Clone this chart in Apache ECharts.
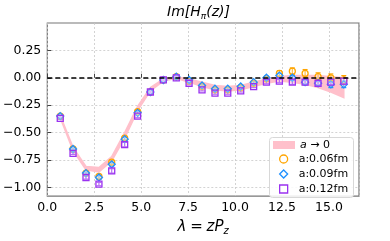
<!DOCTYPE html>
<html><head><meta charset="utf-8">
<script src="https://cdn.jsdelivr.net/npm/echarts@6/dist/echarts.min.js"></script>
<style>html,body{margin:0;padding:0;background:#fff}#c{width:390px;height:241px}</style>
</head><body><div id="c"></div>
<script>
const lambdas = [0.69,1.37,2.06,2.75,3.43,4.12,4.81,5.49,6.18,6.87,7.55,8.24,8.93,9.61,10.30,10.99,11.67,12.36,13.05,13.73,14.42,15.10,15.79];
const y006 = [-0.35,-0.65,-0.87,-0.90,-0.77,-0.55,-0.31,-0.13,-0.02,0.01,-0.03,-0.08,-0.11,-0.11,-0.09,-0.05,-0.01,0.04,0.06,0.04,0.01,0.00,-0.02];
const e006 = [0.01,0.01,0.01,0.015,0.015,0.015,0.015,0.01,0.01,0.01,0.01,0.01,0.01,0.01,0.01,0.015,0.015,0.025,0.03,0.035,0.035,0.035,0.04];
const y009 = [-0.35,-0.65,-0.87,-0.91,-0.79,-0.56,-0.32,-0.13,-0.02,0.01,-0.02,-0.07,-0.10,-0.10,-0.08,-0.04,0.00,0.02,0.00,-0.04,-0.05,-0.06,-0.06];
const e009 = [0.01,0.01,0.01,0.015,0.015,0.015,0.015,0.01,0.01,0.01,0.01,0.01,0.01,0.01,0.01,0.01,0.015,0.02,0.02,0.025,0.025,0.03,0.03];
const y012 = [-0.37,-0.69,-0.91,-0.97,-0.85,-0.61,-0.35,-0.13,-0.02,0.00,-0.05,-0.11,-0.14,-0.14,-0.12,-0.08,-0.04,-0.03,-0.04,-0.04,-0.05,-0.04,-0.03];
const e012 = [0.01,0.01,0.015,0.015,0.02,0.02,0.015,0.01,0.01,0.01,0.01,0.01,0.01,0.01,0.01,0.01,0.015,0.015,0.02,0.02,0.02,0.025,0.025];
const bandHigh = [-0.345,-0.635,-0.81,-0.82,-0.72,-0.50,-0.26,-0.09,-0.01,0.01,-0.01,-0.04,-0.07,-0.08,-0.07,-0.04,-0.01,0.01,0.02,0.02,0.02,0.01,0.00];
const bandLow  = [-0.365,-0.665,-0.84,-0.86,-0.76,-0.55,-0.30,-0.12,-0.03,-0.005,-0.04,-0.08,-0.11,-0.12,-0.11,-0.08,-0.05,-0.03,-0.04,-0.06,-0.09,-0.13,-0.18];
const yTicks = [-1.0,-0.75,-0.5,-0.25,0,0.25];

const FONT = 'DejaVu Sans';
const C06 = '#ffa500', C09 = '#1e90ff', C12 = '#9a32f0', PINK = '#ffc0cb';

function errSeries(name, ys, es, color) {
  return {
    type: 'custom', name: name, silent: true, z: 3,
    data: lambdas.map((x, i) => [x, ys[i] - es[i], ys[i] + es[i]]),
    encode: {x: 0, y: [1, 2]},
    renderItem: function (params, api) {
      const lo = api.coord([api.value(0), api.value(1)]);
      const hi = api.coord([api.value(0), api.value(2)]);
      const w = 2.5;
      return {type: 'group', children: [
        {type: 'line', shape: {x1: lo[0], y1: lo[1], x2: hi[0], y2: hi[1]}, style: {stroke: color, lineWidth: 1.2}},
        {type: 'line', shape: {x1: lo[0]-w, y1: lo[1], x2: lo[0]+w, y2: lo[1]}, style: {stroke: color, lineWidth: 1.2}},
        {type: 'line', shape: {x1: hi[0]-w, y1: hi[1], x2: hi[0]+w, y2: hi[1]}, style: {stroke: color, lineWidth: 1.2}}
      ]};
    }
  };
}
function markerSeries(name, ys, color, symbol, size) {
  return {
    type: 'scatter', name: name, z: 4, symbol: symbol, symbolSize: size,
    data: lambdas.map((x, i) => [x, ys[i]]),
    itemStyle: {color: 'rgba(255,255,255,0.3)', borderColor: color, borderWidth: 1.3, opacity: 1},
    emphasis: {disabled: true}
  };
}

const legendText = {fontFamily: FONT, fontSize: 11, color: '#000', lineHeight: 12,
  rich: {i: {fontFamily: FONT, fontStyle: 'italic', fontSize: 11}, n: {fontFamily: FONT, fontSize: 11}}};

const chart = echarts.init(document.getElementById('c'), null, {renderer: 'canvas'});
chart.setOption({
  animation: false,
  backgroundColor: '#fff',
  textStyle: {fontFamily: FONT},
  title: {
    text: '{a|Im[H}{s|π}{a|(z)]}', left: 167, top: 3, padding: 0,
    textStyle: {fontWeight: 'normal', rich: {
      a: {fontFamily: FONT, fontStyle: 'italic', fontWeight: 'normal', fontSize: 14, color: '#000', lineHeight: 18},
      s: {fontFamily: FONT, fontStyle: 'italic', fontWeight: 'normal', fontSize: 9, color: '#000', verticalAlign: 'bottom', lineHeight: 12, padding: [6, 0, 0, 0]}
    }}
  },
  graphic: [{
    type: 'rect', left: 269, top: 137, z: 10,
    shape: {width: 84, height: 60, r: 3},
    style: {fill: 'rgba(255,255,255,0.85)', stroke: '#d8d8d8', lineWidth: 1}
  }],
  grid: {left: 47, right: 31, top: 23, bottom: 38, show: true, borderColor: '#777', borderWidth: 1.2, backgroundColor: 'transparent'},
  legend: [{
    orient: 'vertical', left: 273, top: 139, padding: 0, z: 11,
    itemWidth: 22, itemHeight: 8, itemGap: 0,
    textStyle: Object.assign({padding: [0, 0, 0, 0]}, legendText),
    formatter: function () { return '{i|a} {n|→ 0}'; },
    data: [{name: 'a → 0', icon: 'rect', itemStyle: {color: PINK, borderWidth: 0}}]
  }, {
    orient: 'vertical', left: 279, top: 153, padding: 0, z: 11,
    itemWidth: 8, itemHeight: 8, itemGap: 3,
    textStyle: Object.assign({padding: [0, 0, 0, 6]}, legendText),
    data: [
      {name: 'a:0.06fm', icon: 'circle', itemStyle: {color: '#fff', borderColor: C06, borderWidth: 1.3}},
      {name: 'a:0.09fm', icon: 'diamond', itemStyle: {color: '#fff', borderColor: C09, borderWidth: 1.3}},
      {name: 'a:0.12fm', icon: 'rect', itemStyle: {color: '#fff', borderColor: C12, borderWidth: 1.3}}
    ]
  }],
  xAxis: {
    type: 'value', min: 0, max: 16.6, interval: 2.5,
    name: '{i|λ} {n|=} {i|zP}{s|z}', nameLocation: 'middle', nameGap: 20,
    nameTextStyle: {rich: {
      i: {fontFamily: FONT, fontStyle: 'italic', fontSize: 15, color: '#000', lineHeight: 18},
      n: {fontFamily: FONT, fontSize: 15, color: '#000', lineHeight: 18},
      s: {fontFamily: FONT, fontStyle: 'italic', fontSize: 10, color: '#000', verticalAlign: 'bottom', lineHeight: 12, padding: [7, 0, 0, 0]}
    }},
    axisLine: {show: false},
    axisTick: {show: true, inside: true, length: 4, lineStyle: {color: '#444'}},
    axisLabel: {fontFamily: FONT, fontSize: 12.5, color: '#000', margin: 5, showMaxLabel: false,
      formatter: v => v.toFixed(1)},
    splitLine: {show: true, lineStyle: {color: '#c8c8c8', type: [2, 2], width: 0.8}}
  },
  yAxis: {
    type: 'value', min: -1.08, max: 0.5,
    axisLine: {show: false},
    axisTick: {show: true, inside: true, length: 4, lineStyle: {color: '#444'}, customValues: yTicks},
    axisLabel: {fontFamily: FONT, fontSize: 12.5, color: '#000', margin: 6, customValues: yTicks,
      formatter: v => (v < 0 ? '\u2212' : '') + Math.abs(v).toFixed(2)},
    splitLine: {show: true, lineStyle: {color: '#c8c8c8', type: [2, 2], width: 0.8}}
  },
  series: [
    {
      type: 'custom', name: 'a → 0', silent: true, z: 1,
      data: lambdas.map((x, i) => [x, bandLow[i], bandHigh[i]]),
      encode: {x: 0, y: [1, 2]},
      itemStyle: {color: PINK},
      renderItem: function (params, api) {
        if (params.dataIndex !== 0) return null;
        const top = lambdas.map((x, i) => api.coord([x, bandHigh[i]]));
        const bot = lambdas.map((x, i) => api.coord([x, bandLow[i]])).reverse();
        return {type: 'polygon', shape: {points: top.concat(bot)}, style: {fill: PINK, stroke: PINK, lineWidth: 1.5}};
      }
    },
    {
      type: 'line', name: 'zero', data: [], silent: true, z: 2,
      markLine: {silent: true, symbol: 'none', label: {show: false},
        lineStyle: {color: '#000', type: [5, 3], width: 1.5},
        data: [{yAxis: 0}]}
    },
    errSeries('a:0.06fm', y006, e006, C06),
    errSeries('a:0.09fm', y009, e009, C09),
    errSeries('a:0.12fm', y012, e012, C12),
    markerSeries('a:0.06fm', y006, C06, 'circle', 6),
    markerSeries('a:0.09fm', y009, C09, 'diamond', 7),
    markerSeries('a:0.12fm', y012, C12, 'rect', 6)
  ]
});
</script></body></html>
